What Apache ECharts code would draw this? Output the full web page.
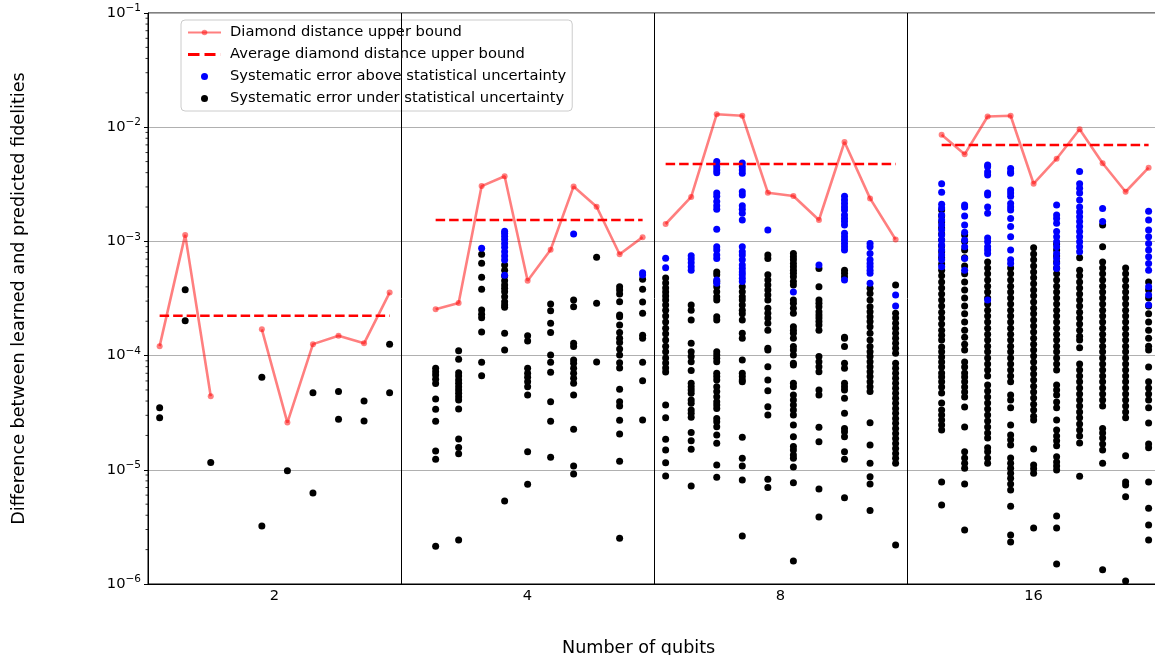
<!DOCTYPE html>
<html><head><meta charset="utf-8">
<script src="https://cdn.jsdelivr.net/npm/echarts@6/dist/echarts.min.js"></script>
<style>html,body{margin:0;padding:0;background:#fff;overflow:hidden;width:1155px;height:655px}#c{width:1165px;height:655px}</style>
</head><body><div id="c"></div>
<script>
// ---------- data ----------
const qubitLabels = ['2', '4', '8', '16'];
const slotCount = [10, 11, 10, 11];
const firstSlot = [0, 1, 0, 1];

const boundQ2  = [1.21e-4, 1.14e-3, 4.4e-5, null, 1.70e-4, 2.59e-5, 1.26e-4, 1.49e-4, 1.28e-4, 3.56e-4];
const boundQ4  = [2.54e-4, 2.89e-4, 3.05e-3, 3.72e-3, 4.53e-4, 8.46e-4, 3.03e-3, 2.01e-3, 7.71e-4, 1.09e-3];
const boundQ8  = [1.42e-3, 2.45e-3, 1.30e-2, 1.26e-2, 2.67e-3, 2.50e-3, 1.54e-3, 7.42e-3, 2.38e-3, 1.04e-3];
const boundQ16 = [8.6e-3, 5.79e-3, 1.24e-2, 1.26e-2, 3.20e-3, 5.30e-3, 9.59e-3, 4.83e-3, 2.72e-3, 4.42e-3];
const avgBound = [2.23e-4, 1.54e-3, 4.76e-3, 6.98e-3];

const aboveQ2 = [[], [], [], [], [], [], [], [], [], []];
const belowQ2 = [
  [3.5e-5, 2.86e-5], [3.77e-4, 2.02e-4], [1.16e-5], [], [6.45e-5, 3.22e-6],
  [9.8e-6], [4.73e-5, 6.27e-6], [4.86e-5, 2.77e-5], [4.0e-5, 2.67e-5], [1.26e-4, 4.73e-5]
];

const aboveQ4 = [
  [], [], [8.7e-4],
  [1.23e-3, 1.18e-3, 1.11e-3, 1.04e-3, 9.6e-4, 8.9e-4, 8.1e-4, 7.45e-4, 6.87e-4, 5.05e-4],
  [], [], [1.16e-3], [], [], [5.32e-4, 5.08e-4]
];
const belowQ4 = [
  [7.74e-5, 7.23e-5, 6.76e-5, 6.2e-5, 5.71e-5, 4.17e-5, 3.39e-5, 2.66e-5, 1.46e-5, 1.24e-5, 2.14e-6],
  [1.10e-4, 9.28e-5, 7.08e-5, 6.63e-5, 6.12e-5, 5.72e-5, 5.34e-5, 5.0e-5, 4.68e-5, 4.37e-5, 4.09e-5, 3.41e-5, 1.86e-5, 1.57e-5, 1.38e-5, 2.43e-6],
  [7.7e-4, 6.43e-4, 4.85e-4, 3.81e-4, 2.51e-4, 2.30e-4, 2.15e-4, 1.61e-4, 8.73e-5, 6.67e-5],
  [6.21e-4, 5.6e-4, 4.98e-4, 4.53e-4, 4.15e-4, 3.88e-4, 3.63e-4, 3.28e-4, 2.96e-4, 2.77e-4, 2.65e-4, 1.57e-4, 1.12e-4, 5.33e-6],
  [1.49e-4, 1.34e-4, 7.74e-5, 7.0e-5, 6.46e-5, 5.91e-5, 5.34e-5, 4.52e-5, 1.44e-5, 7.46e-6],
  [2.83e-4, 2.47e-4, 1.92e-4, 1.59e-4, 1.01e-4, 8.73e-5, 7.14e-5, 3.95e-5, 2.66e-5, 1.29e-5],
  [3.07e-4, 2.68e-4, 1.28e-4, 1.2e-4, 9.15e-5, 8.57e-5, 7.74e-5, 7.0e-5, 6.33e-5, 5.72e-5, 4.52e-5, 2.26e-5, 1.08e-5, 9.19e-6],
  [7.26e-4, 2.87e-4, 8.79e-5],
  [4.01e-4, 3.75e-4, 3.46e-4, 2.96e-4, 2.27e-4, 2.19e-4, 1.85e-4, 1.59e-4, 1.42e-4, 1.3e-4, 1.14e-4, 1.01e-4, 8.67e-5, 7.79e-5, 5.07e-5, 3.95e-5, 3.62e-5, 2.72e-5, 2.06e-5, 1.19e-5, 2.51e-6],
  [4.66e-4, 3.81e-4, 2.95e-4, 2.35e-4, 1.51e-4, 1.42e-4, 8.73e-5, 6.03e-5, 2.73e-5]
];

const aboveQ8 = [
  [7.11e-4, 5.89e-4],
  [7.5e-4, 7.0e-4, 6.5e-4, 6.0e-4, 5.6e-4],
  [5.0e-3, 4.75e-3, 4.5e-3, 4.22e-3, 4.0e-3, 2.65e-3, 2.48e-3, 2.23e-3, 2.05e-3, 1.91e-3, 1.28e-3, 9.0e-4, 8.4e-4, 7.6e-4, 7.1e-4, 4.6e-4, 4.3e-4],
  [4.85e-3, 4.5e-3, 4.22e-3, 3.95e-3, 2.72e-3, 2.55e-3, 2.05e-3, 1.91e-3, 1.76e-3, 1.54e-3, 9.0e-4, 8.1e-4, 7.6e-4, 6.9e-4, 6.2e-4, 5.8e-4, 5.4e-4, 5.1e-4, 4.75e-4, 4.45e-4],
  [1.26e-3],
  [3.6e-4],
  [6.2e-4],
  [2.48e-3, 2.3e-3, 2.15e-3, 2.0e-3, 1.88e-3, 1.7e-3, 1.59e-3, 1.49e-3, 1.39e-3, 1.18e-3, 1.1e-3, 1.03e-3, 9.6e-4, 9.0e-4, 8.4e-4, 4.6e-4],
  [9.6e-4, 9.0e-4, 7.85e-4, 6.9e-4, 6.4e-4, 6.0e-4, 5.6e-4, 5.25e-4, 4.3e-4],
  [3.4e-4, 2.72e-4]
];
const belowQ8 = [
  [4.78e-4, 4.32e-4, 3.91e-4, 3.6e-4, 3.33e-4, 3.07e-4, 2.77e-4, 2.5e-4, 2.22e-4, 1.97e-4, 1.74e-4, 1.55e-4, 1.37e-4, 1.21e-4, 1.08e-4, 9.53e-5, 8.61e-5, 7.79e-5, 7.18e-5, 3.69e-5, 2.86e-5, 1.85e-5, 1.49e-5, 1.15e-5, 8.83e-6],
  [2.77e-4, 2.5e-4, 2.05e-4, 1.28e-4, 1.08e-4, 9.8e-5, 8.85e-5, 7.4e-5, 5.72e-5, 5.34e-5, 5.0e-5, 4.68e-5, 4.09e-5, 3.82e-5, 3.34e-5, 3.12e-5, 2.88e-5, 2.12e-5, 1.8e-5, 1.51e-5, 7.2e-6],
  [5.4e-4, 5.1e-4, 4.45e-4, 4.0e-4, 3.63e-4, 3.28e-4, 3.07e-4, 2.19e-4, 2.05e-4, 1.08e-4, 1.01e-4, 9.5e-5, 8.85e-5, 7.0e-5, 6.55e-5, 6.11e-5, 5.34e-5, 4.84e-5, 4.37e-5, 3.95e-5, 3.69e-5, 3.45e-5, 2.82e-5, 2.64e-5, 2.38e-5, 2.02e-5, 1.71e-5, 1.1e-5, 8.6e-6],
  [4.0e-4, 3.63e-4, 3.28e-4, 3.07e-4, 2.77e-4, 2.5e-4, 2.33e-4, 2.05e-4, 1.57e-4, 1.42e-4, 9.15e-5, 7.0e-5, 6.55e-5, 6.11e-5, 5.9e-5, 1.93e-5, 1.26e-5, 1.08e-5, 8.14e-6, 2.63e-6],
  [7.6e-4, 7.1e-4, 5.1e-4, 4.6e-4, 4.15e-4, 3.75e-4, 3.4e-4, 3.07e-4, 2.6e-4, 2.35e-4, 2.13e-4, 1.92e-4, 1.67e-4, 1.16e-4, 1.12e-4, 8.0e-5, 6.11e-5, 4.93e-5, 3.57e-5, 3.02e-5, 8.25e-6, 7.0e-6],
  [7.85e-4, 7.35e-4, 6.9e-4, 6.4e-4, 6.0e-4, 5.6e-4, 5.25e-4, 4.9e-4, 4.45e-4, 4.15e-4, 3.07e-4, 2.87e-4, 2.6e-4, 2.35e-4, 1.79e-4, 1.67e-4, 1.57e-4, 1.42e-4, 1.2e-4, 1.12e-4, 1.01e-4, 8.55e-5, 8.27e-5, 5.72e-5, 5.34e-5, 4.52e-5, 4.09e-5, 3.69e-5, 3.34e-5, 3.02e-5, 2.47e-5, 1.95e-5, 1.6e-5, 1.49e-5, 1.35e-5, 1.26e-5, 1.06e-5, 7.7e-6, 1.59e-6],
  [5.8e-4, 4.0e-4, 3.07e-4, 2.87e-4, 2.68e-4, 2.42e-4, 2.27e-4, 2.13e-4, 1.99e-4, 1.85e-4, 1.67e-4, 9.8e-5, 8.85e-5, 8.0e-5, 7.23e-5, 5.0e-5, 4.52e-5, 2.36e-5, 1.76e-5, 6.8e-6, 3.86e-6],
  [5.6e-4, 5.25e-4, 4.9e-4, 1.45e-4, 1.42e-4, 1.2e-4, 8.55e-5, 7.74e-5, 5.72e-5, 5.34e-5, 5.0e-5, 4.23e-5, 3.12e-5, 2.3e-5, 2.15e-5, 1.95e-5, 1.44e-5, 1.24e-5, 5.7e-6],
  [3.88e-4, 3.5e-4, 3.07e-4, 2.68e-4, 2.42e-4, 2.19e-4, 1.99e-4, 1.79e-4, 1.57e-4, 1.37e-4, 1.2e-4, 1.08e-4, 9.8e-5, 8.85e-5, 8.0e-5, 7.23e-5, 6.55e-5, 5.9e-5, 5.34e-5, 4.84e-5, 2.58e-5, 1.65e-5, 1.14e-5, 8.7e-6, 7.5e-6, 4.4e-6],
  [4.15e-4, 2.35e-4, 2.13e-4, 1.92e-4, 1.74e-4, 1.57e-4, 1.42e-4, 1.28e-4, 1.16e-4, 1.05e-4, 8.55e-5, 7.74e-5, 7.0e-5, 6.33e-5, 5.72e-5, 5.17e-5, 4.68e-5, 4.23e-5, 3.82e-5, 3.45e-5, 3.12e-5, 2.82e-5, 2.55e-5, 2.3e-5, 2.08e-5, 1.88e-5, 1.7e-5, 1.54e-5, 1.39e-5, 1.26e-5, 1.14e-5, 2.2e-6]
];

const aboveQ16 = [
  [3.2e-3, 2.7e-3, 2.12e-3, 1.96e-3, 1.7e-3, 1.54e-3, 1.39e-3, 1.26e-3, 1.14e-3, 1.03e-3, 9.3e-4, 8.4e-4, 7.6e-4, 6.9e-4, 6.0e-4],
  [2.08e-3, 2.0e-3, 1.67e-3, 1.39e-3, 1.2e-3, 1.03e-3, 9.0e-4, 7.1e-4, 5.6e-4],
  [4.67e-3, 4.5e-3, 4.05e-3, 3.82e-3, 2.65e-3, 2.55e-3, 2.0e-3, 1.76e-3, 1.07e-3, 9.95e-4, 9.0e-4, 8.4e-4, 7.85e-4, 3.07e-4],
  [4.35e-3, 4.05e-3, 3.95e-3, 2.82e-3, 2.65e-3, 2.48e-3, 2.15e-3, 2.0e-3, 1.88e-3, 1.59e-3, 1.35e-3, 1.1e-3, 8.4e-4, 6.9e-4, 6.4e-4],
  [],
  [2.08e-3, 1.7e-3, 1.59e-3, 1.44e-3, 1.22e-3, 1.1e-3, 9.95e-4, 9.0e-4, 7.85e-4, 7.1e-4, 6.4e-4, 5.8e-4],
  [4.1e-3, 3.2e-3, 2.92e-3, 2.65e-3, 2.3e-3, 2.0e-3, 1.81e-3, 1.64e-3, 1.49e-3, 1.35e-3, 1.22e-3, 1.1e-3, 9.95e-4, 9.0e-4, 8.1e-4],
  [1.94e-3, 1.49e-3],
  [],
  [1.84e-3, 1.54e-3, 1.26e-3, 1.1e-3, 9.6e-4, 8.4e-4, 7.35e-4, 6.4e-4, 5.6e-4, 4.0e-4, 3.4e-4, 2.77e-4]
];
const belowQ16 = [
  [1.88e-3, 1.67e-3, 1.48e-3, 1.31e-3, 1.16e-3, 1.03e-3, 9.1e-4, 8.1e-4, 7.2e-4, 6.35e-4, 5.6e-4, 5.0e-4, 4.4e-4, 3.9e-4, 3.47e-4, 3.07e-4, 2.72e-4, 2.4e-4, 2.13e-4, 1.89e-4, 1.67e-4, 1.51e-4, 1.37e-4, 1.19e-4, 1.08e-4, 9.7e-5, 8.8e-5, 7.95e-5, 7.05e-5, 6.5e-5, 5.9e-5, 5.3e-5, 4.7e-5, 3.85e-5, 3.34e-5, 3.02e-5, 2.73e-5, 2.47e-5, 2.23e-5, 7.8e-6, 4.92e-6],
  [1.14e-3, 1.0e-3, 8.4e-4, 7.2e-4, 6.1e-4, 5.2e-4, 4.4e-4, 3.75e-4, 3.2e-4, 2.72e-4, 2.32e-4, 1.97e-4, 1.67e-4, 1.45e-4, 1.26e-4, 1.12e-4, 8.8e-5, 7.95e-5, 7.05e-5, 6.5e-5, 5.9e-5, 5.3e-5, 4.8e-5, 4.35e-5, 3.55e-5, 2.37e-5, 1.44e-5, 1.27e-5, 1.14e-5, 1.03e-5, 7.5e-6, 2.97e-6],
  [6.6e-4, 5.85e-4, 5.2e-4, 4.6e-4, 4.05e-4, 3.6e-4, 3.2e-4, 2.83e-4, 2.5e-4, 2.22e-4, 1.97e-4, 1.74e-4, 1.54e-4, 1.37e-4, 1.21e-4, 1.08e-4, 9.55e-5, 8.45e-5, 7.48e-5, 6.62e-5, 5.53e-5, 4.9e-5, 4.35e-5, 3.85e-5, 3.4e-5, 3.02e-5, 2.68e-5, 2.37e-5, 2.1e-5, 1.9e-5, 1.56e-5, 1.44e-5, 1.27e-5, 1.14e-5],
  [5.85e-4, 5.2e-4, 4.6e-4, 4.05e-4, 3.6e-4, 3.2e-4, 2.83e-4, 2.5e-4, 2.22e-4, 1.97e-4, 1.74e-4, 1.54e-4, 1.37e-4, 1.21e-4, 1.08e-4, 9.55e-5, 8.45e-5, 7.48e-5, 6.62e-5, 5.9e-5, 4.52e-5, 4.09e-5, 3.5e-5, 2.47e-5, 2.02e-5, 1.83e-5, 1.65e-5, 1.27e-5, 1.14e-5, 1.03e-5, 9.35e-6, 8.45e-6, 7.5e-6, 6.66e-6, 4.8e-6, 2.69e-6, 2.33e-6],
  [8.8e-4, 7.75e-4, 6.9e-4, 6.1e-4, 5.4e-4, 4.8e-4, 4.25e-4, 3.75e-4, 3.35e-4, 2.95e-4, 2.6e-4, 2.32e-4, 2.05e-4, 1.82e-4, 1.61e-4, 1.42e-4, 1.26e-4, 1.12e-4, 9.9e-5, 8.8e-5, 7.75e-5, 6.9e-5, 6.11e-5, 5.4e-5, 4.8e-5, 4.25e-5, 3.75e-5, 3.34e-5, 2.95e-5, 2.73e-5, 1.52e-5, 1.1e-5, 1.02e-5, 9.35e-6, 3.1e-6],
  [9.5e-4, 8.4e-4, 7.45e-4, 6.6e-4, 5.85e-4, 5.2e-4, 4.6e-4, 4.05e-4, 3.6e-4, 3.2e-4, 2.83e-4, 2.5e-4, 2.22e-4, 1.97e-4, 1.74e-4, 1.54e-4, 1.37e-4, 1.21e-4, 1.08e-4, 9.55e-5, 8.45e-5, 7.48e-5, 5.53e-5, 5.0e-5, 4.52e-5, 3.92e-5, 3.5e-5, 2.73e-5, 2.23e-5, 1.98e-5, 1.8e-5, 1.62e-5, 1.3e-5, 1.17e-5, 1.08e-5, 9.96e-6, 3.94e-6, 3.1e-6, 1.5e-6],
  [7.2e-4, 5.6e-4, 5.0e-4, 4.4e-4, 3.9e-4, 3.47e-4, 3.07e-4, 2.72e-4, 2.4e-4, 2.13e-4, 1.89e-4, 1.67e-4, 1.48e-4, 1.37e-4, 1.17e-4, 8.45e-5, 7.48e-5, 6.62e-5, 5.9e-5, 5.2e-5, 4.6e-5, 4.09e-5, 3.62e-5, 3.2e-5, 2.85e-5, 2.52e-5, 2.23e-5, 1.98e-5, 1.72e-5, 8.8e-6],
  [1.39e-3, 9.0e-4, 6.6e-4, 5.85e-4, 5.2e-4, 4.6e-4, 4.05e-4, 3.6e-4, 3.2e-4, 2.83e-4, 2.5e-4, 2.22e-4, 1.97e-4, 1.74e-4, 1.54e-4, 1.37e-4, 1.21e-4, 1.08e-4, 9.55e-5, 8.45e-5, 7.48e-5, 6.62e-5, 5.9e-5, 5.2e-5, 4.6e-5, 4.09e-5, 3.62e-5, 2.3e-5, 2.1e-5, 1.9e-5, 1.68e-5, 1.49e-5, 1.14e-5, 1.33e-6],
  [5.85e-4, 5.2e-4, 4.6e-4, 4.05e-4, 3.6e-4, 3.2e-4, 2.83e-4, 2.5e-4, 2.22e-4, 1.97e-4, 1.74e-4, 1.54e-4, 1.37e-4, 1.21e-4, 1.08e-4, 9.55e-5, 8.45e-5, 7.48e-5, 6.62e-5, 5.9e-5, 5.2e-5, 4.6e-5, 4.09e-5, 3.62e-5, 3.2e-5, 2.85e-5, 1.33e-5, 7.8e-6, 7.36e-6, 5.8e-6, 1.06e-6],
  [4.4e-4, 3.75e-4, 3.2e-4, 2.72e-4, 2.32e-4, 1.97e-4, 1.67e-4, 1.42e-4, 1.21e-4, 1.12e-4, 7.95e-5, 5.9e-5, 5.2e-5, 4.6e-5, 4.09e-5, 3.5e-5, 2.57e-5, 1.68e-5, 1.56e-5, 7.8e-6, 4.6e-6, 3.29e-6, 2.43e-6]
];

const boundByPanel = [boundQ2, boundQ4, boundQ8, boundQ16];
const aboveByPanel = [aboveQ2, aboveQ4, aboveQ8, aboveQ16];
const belowByPanel = [belowQ2, belowQ4, belowQ8, belowQ16];

// ---------- helpers ----------
const FONT = 'DejaVu Sans';
function slotX(panel, j) {
  const n = slotCount[panel];
  return panel + 0.046 + (firstSlot[panel] + j) * (0.909 / (n - 1));
}
const boundData = [];
const avgData = [];
const aboveData = [];
const belowData = [];
for (let k = 0; k < 4; k++) {
  boundByPanel[k].forEach((v, j) => boundData.push(v == null ? [slotX(k, j), '-'] : [slotX(k, j), v]));
  boundData.push([slotX(k, 9) + 0.02, '-']);
  avgData.push([slotX(k, 0), avgBound[k]], [slotX(k, 9), avgBound[k]], [slotX(k, 9) + 0.02, '-']);
  aboveByPanel[k].forEach((arr, j) => arr.forEach(v => aboveData.push([slotX(k, j), v])));
  belowByPanel[k].forEach((arr, j) => arr.forEach(v => belowData.push([slotX(k, j), v])));
}
const minorTickValues = [];
for (let e = -6; e < -1; e++) for (let m = 2; m <= 9; m++) minorTickValues.push(m * Math.pow(10, e));

const chart = echarts.init(document.getElementById('c'), null, { renderer: 'canvas' });
chart.setOption({
  animation: false,
  backgroundColor: '#fff',
  textStyle: { fontFamily: FONT },
  grid: { left: 148, right: 5, top: 13, bottom: 71, outerBoundsMode: 'none', show: true, borderColor: '#000', borderWidth: 1, backgroundColor: 'transparent' },
  xAxis: {
    type: 'value', min: 0, max: 4, interval: 0.5,
    axisLine: { show: true, lineStyle: { color: '#000', width: 1 } },
    axisTick: { show: false },
    splitLine: { show: false },
    axisLabel: {
      margin: 5, fontSize: 14.7, color: '#000', fontFamily: FONT,
      formatter: v => { const i = Math.floor(v); return (Math.abs(v - i - 0.5) < 1e-6 && i < 4) ? qubitLabels[i] : ''; }
    }
  },
  yAxis: {
    type: 'log', logBase: 10, min: 1e-6, max: 1e-1,
    axisLine: { show: true, lineStyle: { color: '#000', width: 1 } },
    axisTick: { show: true, length: 4, lineStyle: { color: '#000' } },
    splitLine: { show: true, lineStyle: { color: '#b0b0b0', width: 1 } },
    minorTick: { show: false },
    name: 'Difference between learned and predicted fidelities',
    nameLocation: 'middle', nameGap: 120, nameRotate: 90,
    nameTextStyle: { fontSize: 17.6, color: '#000', fontFamily: FONT },
    axisLabel: {
      margin: 7, color: '#000',
      formatter: v => { const e = Math.round(Math.log10(v)); return '{b|10}{s|\u2212' + (-e) + '}'; },
      rich: {
        b: { fontSize: 14.7, fontFamily: FONT, color: '#000' },
        s: { fontSize: 10.5, fontFamily: FONT, color: '#000', verticalAlign: 'bottom', padding: [0, 0, 9, 0] }
      }
    }
  },
  legend: {
    left: 181, top: 20, orient: 'vertical',
    padding: [4, 6, 4, 6], itemGap: 5, itemWidth: 33, itemHeight: 7,
    backgroundColor: 'rgba(255,255,255,0.8)', borderColor: '#cccccc', borderWidth: 1, borderRadius: 4,
    textStyle: { fontSize: 14.7, color: '#000', fontFamily: FONT, lineHeight: 17, padding: [0, 0, 0, 4] },
    data: [
      { name: 'Diamond distance upper bound' },
      { name: 'Average diamond distance upper bound',
        icon: 'path://M0,0h11.5v3h-11.5z M16.5,0h11v3h-11z M32.9,0h0.1v3h-0.1z',
        itemStyle: { color: '#ff0000', borderWidth: 0 } },
      { name: 'Systematic error above statistical uncertainty', icon: 'circle' },
      { name: 'Systematic error under statistical uncertainty', icon: 'circle' }
    ]
  },
  graphic: [{
    type: 'text', left: 562, top: 639, z: 10,
    style: { text: 'Number of qubits', fontSize: 17.6, fontFamily: FONT, fill: '#000' }
  }],
  series: [
    {
      name: 'Systematic error under statistical uncertainty', type: 'scatter', z: 2,
      symbol: 'circle', symbolSize: 7, itemStyle: { color: '#000000', opacity: 1 }, data: belowData,
      markLine: {
        silent: true, symbol: 'none', label: { show: false }, animation: false,
        lineStyle: { color: '#000', width: 1, type: 'solid' },
        data: [{ xAxis: 1 }, { xAxis: 2 }, { xAxis: 3 }]
      }
    },
    {
      name: 'Systematic error above statistical uncertainty', type: 'scatter', z: 3,
      symbol: 'circle', symbolSize: 7, itemStyle: { color: '#0000ff', opacity: 1 }, data: aboveData
    },
    {
      name: 'Diamond distance upper bound', type: 'line', z: 4,
      symbol: 'circle', symbolSize: 6, showAllSymbol: true, connectNulls: false,
      lineStyle: { color: 'rgba(255,0,0,0.5)', width: 2.6 },
      itemStyle: { color: 'rgba(255,0,0,0.5)', borderWidth: 0 },
      data: boundData
    },
    {
      name: 'Average diamond distance upper bound', type: 'line', z: 4,
      symbol: 'none', connectNulls: false,
      lineStyle: { color: '#ff0000', width: 2.6, type: [9.5, 4] },
      itemStyle: { color: '#ff0000' },
      data: avgData
    },
    {
      type: 'custom', z: 5, silent: true, clip: false,
      data: minorTickValues.map(v => [0, v]),
      renderItem: (params, api) => {
        const p = api.coord([0, api.value(1)]);
        return { type: 'line', shape: { x1: p[0] - 2.5, y1: p[1], x2: p[0], y2: p[1] }, style: { stroke: '#000', lineWidth: 0.8 } };
      }
    }
  ]
});
</script>
</body></html>
